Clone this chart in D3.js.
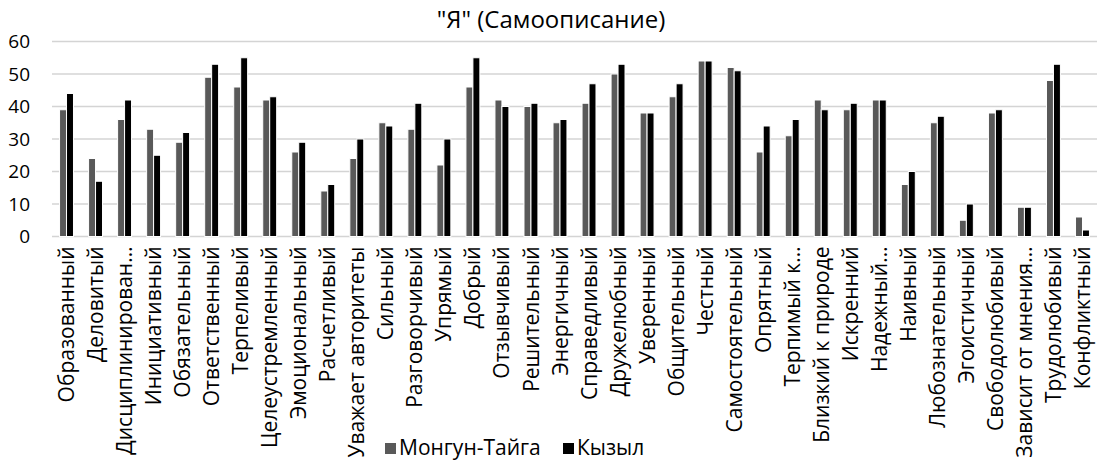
<!DOCTYPE html>
<html>
<head>
<meta charset="utf-8">
<script src="https://cdn.jsdelivr.net/npm/d3@7"></script>
<style>
  body { margin: 0; background: #fff; }
  svg { font-family: "Open Sans", sans-serif; }
</style>
</head>
<body>
<div id="chart-area"></div>
<script>
let categories = ["Образованный", "Деловитый", "Дисциплинирован…", "Инициативный", "Обязательный",
    "Ответственный", "Терпеливый", "Целеустремленный", "Эмоциональный", "Расчетливый",
    "Уважает авторитеты", "Сильный", "Разговорчивый", "Упрямый", "Добрый", "Отзывчивый",
    "Решительный", "Энергичный", "Справедливый", "Дружелюбный", "Уверенный", "Общительный",
    "Честный", "Самостоятельный", "Опрятный", "Терпимый к…", "Близкий к природе", "Искренний",
    "Надежный…", "Наивный", "Любознательный", "Эгоистичный", "Свободолюбивый",
    "Зависит от мнения…", "Трудолюбивый", "Конфликтный"];

let mongunTaiga = [39, 24, 36, 33, 29, 49, 46, 42, 26, 14, 24, 35, 33, 22, 46, 42, 40, 35,
    41, 50, 38, 43, 54, 52, 26, 31, 42, 39, 42, 16, 35, 5, 38, 9, 48, 6];
let kyzyl = [44, 17, 42, 25, 32, 53, 55, 43, 29, 16, 30, 34, 41, 30, 55, 40, 41, 36,
    47, 53, 38, 47, 54, 51, 34, 36, 39, 41, 42, 20, 37, 10, 39, 9, 53, 2];

let seriesNames = ["Монгун-Тайга", "Кызыл"];
let seriesColors = ["#595959", "#000000"];
let yTicks = [0, 10, 20, 30, 40, 50, 60];

let totalWidth = 1104;
let totalHeight = 464;
let margin = { left: 52, right: 7, top: 41.5, bottom: 227.5 };
let width = totalWidth - margin.left - margin.right;
let height = totalHeight - margin.top - margin.bottom;

let data = categories.map((c, i) => ({ name: c, values: [mongunTaiga[i], kyzyl[i]] }));

let root = d3.select("#chart-area")
    .append("svg")
    .attr("width", totalWidth)
    .attr("height", totalHeight);

let svg = root.append("g")
    .attr("transform", "translate(" + margin.left + "," + margin.top + ")");

let x0 = d3.scaleBand()
    .domain(categories)
    .range([0, width])
    .paddingInner(0.52)
    .paddingOuter(0.26);

let x1 = d3.scaleBand()
    .domain([0, 1])
    .range([0, x0.bandwidth()]);

let y = d3.scaleLinear()
    .domain([0, 60])
    .range([height, 0]);

// Title
root.append("text")
    .attr("x", 551)
    .attr("y", 28)
    .attr("text-anchor", "middle")
    .style("font-size", "24px")
    .style("fill", "#000")
    .text("\"Я\" (Самоописание)");

// gridlines
svg.append("g")
    .attr("class", "grid")
    .selectAll("line")
    .data(yTicks)
    .enter()
    .append("line")
    .attr("x1", 0)
    .attr("x2", width)
    .attr("y1", d => y(d))
    .attr("y2", d => y(d))
    .attr("stroke", "#d4d4d4")
    .attr("stroke-width", 1.5);

// Y axis
let yAxis = d3.axisLeft(y)
    .tickValues(yTicks)
    .tickSize(0)
    .tickPadding(22);

svg.append("g")
    .attr("class", "y-axis")
    .call(yAxis)
    .call(g => g.select(".domain").remove())
    .selectAll("text")
    .style("font-size", "19px")
    .style("fill", "#000")
    .style("font-family", "\"Open Sans\", sans-serif");

// bars
let groups = svg.append("g")
    .attr("class", "bars-group")
    .selectAll("g")
    .data(data)
    .enter()
    .append("g")
    .attr("transform", d => "translate(" + x0(d.name) + ",0)");

groups.selectAll("rect")
    .data(d => d.values.map((v, i) => ({ i: i, v: v })))
    .enter()
    .append("rect")
    .attr("x", d => x1(d.i))
    .attr("width", x1.bandwidth())
    .attr("y", d => y(d.v))
    .attr("height", d => height - y(d.v))
    .attr("fill", d => seriesColors[d.i])
    .attr("stroke", "#fff")
    .attr("stroke-width", 1);

// X axis
let xAxis = d3.axisBottom(x0).tickSize(0).tickPadding(0);

svg.append("g")
    .attr("class", "x-axis")
    .attr("transform", "translate(0," + height + ")")
    .call(xAxis)
    .call(g => g.select(".domain").remove())
    .selectAll("text")
    .style("font-size", "21px")
    .style("fill", "#000")
    .style("font-family", "\"Open Sans\", sans-serif")
    .style("text-anchor", "end")
    .attr("transform", "rotate(-90)")
    .attr("x", -10)
    .attr("y", 0)
    .attr("dy", "0.36em");

// legend
let legendX = [385, 563];
let legend = root.append("g").attr("class", "legend");
seriesNames.forEach((s, i) => {
    legend.append("rect")
        .attr("x", legendX[i])
        .attr("y", 443)
        .attr("width", 11)
        .attr("height", 11)
        .attr("fill", seriesColors[i]);
    legend.append("text")
        .attr("x", legendX[i] + 14)
        .attr("y", 455)
        .style("font-size", "21px")
        .style("fill", "#000")
        .text(s);
});
</script>
</body>
</html>
